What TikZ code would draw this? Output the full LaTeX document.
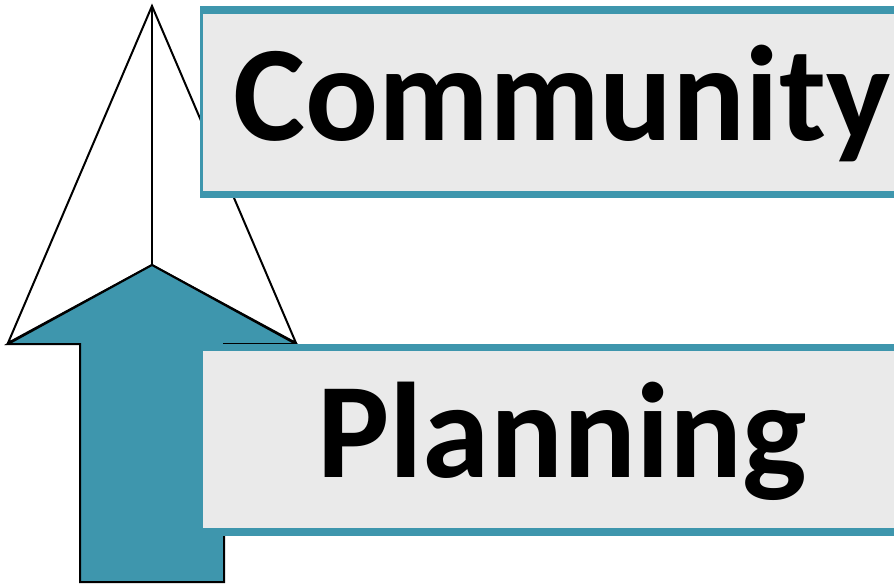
\documentclass[tikz,border=0pt]{standalone}
\usepackage{fontspec}
\setmainfont{Carlito}
\definecolor{teal1}{HTML}{3E96AD}
\definecolor{boxg}{HTML}{EAEAEA}
\tikzset{
 outline/.style={draw=black,line width=2pt,line join=miter},
 band/.style={fill=teal1},
 panel/.style={fill=boxg},
 word/.style={font=\bfseries\fontsize{136}{136}\selectfont,inner sep=0pt,text=black,anchor=base}
}
\begin{document}
\begin{tikzpicture}[x=1pt,y=-1pt]
\useasboundingbox (0,0) rectangle (894,584);
\draw[outline,fill=white] (8,343) -- (152,6) -- (296,343) -- (152,265) -- cycle;
\draw[outline] (152,6) -- (152,265);
\draw[outline,fill=teal1] (8,344) -- (152,265) -- (296,344) -- (224,344) -- (224,582) -- (80,582) -- (80,344) -- cycle;
\fill[band] (200,6) rectangle (900,198);
\fill[panel] (203,14) rectangle (900,191);
\fill[band] (203,344) rectangle (900,536);
\fill[panel] (203,351) rectangle (900,528);
\node[word] (c) at (562,140) {Community};
\node[word] (p) at (562,477.5) {Planning};
\end{tikzpicture}
\end{document}
